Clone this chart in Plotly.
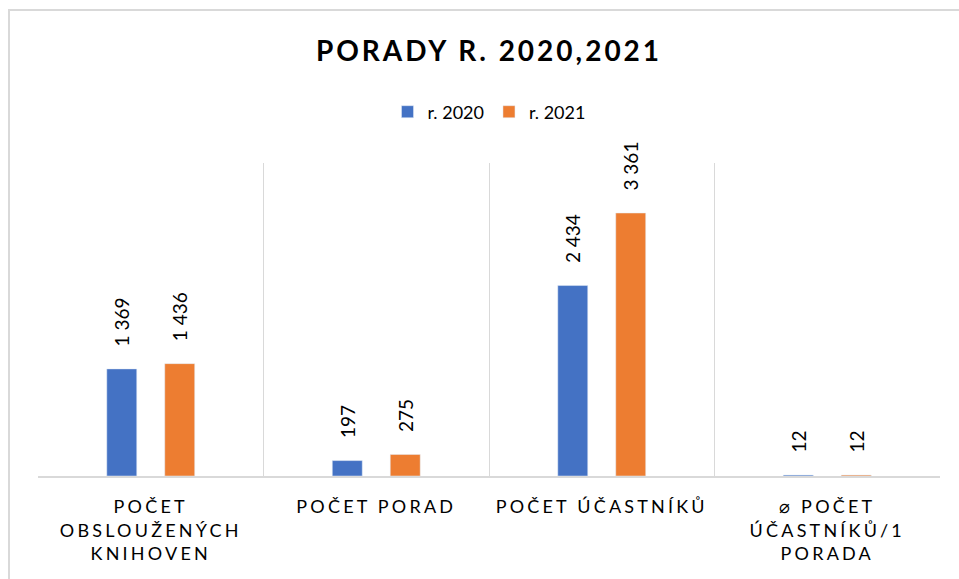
import plotly.graph_objects as go

categories = [
    "POČET<br>OBSLOUŽENÝCH<br>KNIHOVEN",
    "POČET PORAD",
    "POČET ÚČASTNÍKŮ",
    "⌀ POČET<br>ÚČASTNÍKŮ/1<br>PORADA",
]
values_2020 = [1369, 197, 2434, 12]
values_2021 = [1436, 275, 3361, 12]
labels_2020 = ["1 369", "197", "2 434", "12"]
labels_2021 = ["1 436", "275", "3 361", "12"]

FONT = "Lato, 'Open Sans', sans-serif"
GRID = "#d9d9d9"
PAD = "\u00a0" * 4  # gap between bar top and rotated label


def padded(labels):
    return [PAD + t for t in labels]


fig = go.Figure()
fig.add_trace(go.Bar(
    name="r. 2020", x=categories, y=values_2020, text=padded(labels_2020),
    marker_color="#4472C4", textposition="outside", textangle=-90,
    constraintext="none",
    textfont=dict(size=19, color="#000000", family=FONT), cliponaxis=False,
))
fig.add_trace(go.Bar(
    name="r. 2021", x=categories, y=values_2021, text=padded(labels_2021),
    marker_color="#ED7D31", textposition="outside", textangle=-90,
    constraintext="none",
    textfont=dict(size=19, color="#000000", family=FONT), cliponaxis=False,
))

L, R, T, B = 38, 19, 163, 103
W, H = 959, 579
pw = W - L - R
ph = H - T - B

fig.update_layout(
    width=W, height=H,
    margin=dict(l=L, r=R, t=T, b=B, autoexpand=False),
    paper_bgcolor="white", plot_bgcolor="white",
    barmode="group", bargap=0.486, bargroupgap=0.483,
    font=dict(family=FONT, color="#000000"),
    title=dict(text="<b>PORADY R. 2020,2021</b>", x=0.5, xref="paper", xanchor="center",
               y=1 - 51 / H, yref="container", yanchor="middle",
               font=dict(size=28, family=FONT, color="#000000")),
    legend=dict(orientation="h", x=0.5, xanchor="center", xref="paper",
                y=(H - B - 112) / ph, yanchor="middle",
                font=dict(size=18, family=FONT, color="#000000"),
                itemwidth=30, traceorder="normal"),
    showlegend=True,
    xaxis=dict(showline=True, linecolor=GRID, linewidth=1.5,
               showgrid=True, gridcolor=GRID, gridwidth=1,
               tickson="boundaries", ticks="", ticklabelstandoff=14,
               tickfont=dict(size=18, family=FONT, color="#000000"),
               automargin=False, fixedrange=True),
    yaxis=dict(range=[0, 4000], showgrid=False, showticklabels=False,
               zeroline=False, showline=False, automargin=False, fixedrange=True),
    shapes=[dict(type="rect", xref="paper", yref="paper",
                 x0=(9 - L) / pw, x1=1.2, y0=-0.6, y1=(H - B - 10) / ph,
                 line=dict(color=GRID, width=2), fillcolor="rgba(0,0,0,0)",
                 layer="below")],
)

post = """
var s = document.createElement('style');
s.innerHTML = 'html,body{margin:0;padding:0;overflow:hidden;} .xtick text{letter-spacing:3.2px;} .gtitle{letter-spacing:3px;}';
document.head.appendChild(s);
"""
fig.write_html("out.html", post_script=post, config={"displayModeBar": False})
